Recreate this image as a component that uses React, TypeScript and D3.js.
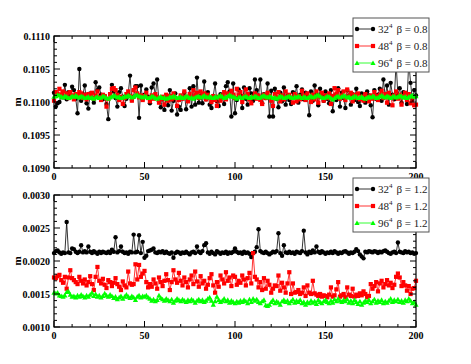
import React from 'react';
import * as d3 from 'd3';

// monte carlo step (x axis) 0..200
const steps = d3.range(0, 201);

// beta = 0.8, top panel
const m32b08 = [
  0.11014, 0.10993, 0.10998, 0.11000, 0.11010, 0.11007, 0.11026, 0.11004, 0.11015, 0.11009,
  0.11023, 0.11018, 0.11005, 0.10983, 0.11050, 0.11002, 0.11012, 0.11025, 0.10998, 0.10990,
  0.11013, 0.11007, 0.10999, 0.11030, 0.11018, 0.11022, 0.11011, 0.11004, 0.11009, 0.10997,
  0.10974, 0.11012, 0.11026, 0.11016, 0.11006, 0.10993, 0.11015, 0.11021, 0.11008, 0.10994,
  0.11005, 0.11012, 0.11040, 0.11003, 0.11008, 0.11024, 0.11024, 0.10976, 0.11025, 0.11004,
  0.11011, 0.11019, 0.11008, 0.10998, 0.11022, 0.11028, 0.11010, 0.11034, 0.11001, 0.10992,
  0.11005, 0.10988, 0.11010, 0.10995, 0.11018, 0.10987, 0.11002, 0.11013, 0.10981, 0.10993,
  0.10988, 0.11006, 0.11014, 0.10989, 0.11003, 0.11021, 0.10993, 0.11024, 0.10996, 0.11037,
  0.10999, 0.11010, 0.10998, 0.11031, 0.11004, 0.11015, 0.10996, 0.10991, 0.11009, 0.11028,
  0.11001, 0.10994, 0.11012, 0.11006, 0.10997, 0.11024, 0.11030, 0.11016, 0.10978, 0.11028,
  0.10983, 0.11003, 0.11019, 0.11010, 0.10991, 0.11022, 0.11005, 0.10996, 0.11021, 0.11013,
  0.11002, 0.11034, 0.11018, 0.11009, 0.11034, 0.10998, 0.11012, 0.11006, 0.11028, 0.10978,
  0.11017, 0.10978, 0.11020, 0.11005, 0.10992, 0.11014, 0.11001, 0.11022, 0.10996, 0.11010,
  0.11003, 0.10997, 0.11015, 0.11008, 0.11024, 0.10999, 0.11011, 0.11019, 0.11004, 0.11014,
  0.11008, 0.10980, 0.11016, 0.11002, 0.11025, 0.11012, 0.10995, 0.11020, 0.11009, 0.11002,
  0.11016, 0.11005, 0.10998, 0.11018, 0.10986, 0.11010, 0.11003, 0.11021, 0.10993, 0.11014,
  0.11006, 0.10991, 0.11018, 0.11009, 0.10996, 0.11012, 0.11003, 0.11020, 0.11000, 0.10994,
  0.11013, 0.11007, 0.10999, 0.11016, 0.11010, 0.10995, 0.10977, 0.11018, 0.11005, 0.11011,
  0.11020, 0.11002, 0.11034, 0.11008, 0.11025, 0.10996, 0.11029, 0.11011, 0.11004, 0.11060,
  0.11010, 0.11021, 0.10999, 0.11015, 0.11007, 0.10997, 0.11062, 0.11029, 0.11003, 0.11018,
  0.11010,
];
const m48b08 = [
  0.11002, 0.11015, 0.11012, 0.11020, 0.11011, 0.11016, 0.11008, 0.11013, 0.11006, 0.11015,
  0.11010, 0.11004, 0.11012, 0.11009, 0.11015, 0.11013, 0.11006, 0.11011, 0.11004, 0.11012,
  0.11008, 0.11014, 0.11005, 0.11010, 0.11016, 0.11007, 0.11003, 0.11011, 0.11009, 0.10993,
  0.11005, 0.11012, 0.11020, 0.11021, 0.11018, 0.11011, 0.11003, 0.11008, 0.10997, 0.11006,
  0.11012, 0.11016, 0.11009, 0.11002, 0.11018, 0.11022, 0.11013, 0.11007, 0.11010, 0.11003,
  0.11009, 0.11014, 0.11006, 0.11001, 0.11010, 0.11005, 0.11012, 0.11007, 0.10999, 0.11004,
  0.11008, 0.10996, 0.11011, 0.11002, 0.11009, 0.11004, 0.11013, 0.11006, 0.10994, 0.11003,
  0.11010, 0.11005, 0.11016, 0.11008, 0.11001, 0.11012, 0.11007, 0.11018, 0.11010, 0.11014,
  0.11006, 0.11016, 0.11010, 0.11013, 0.11004, 0.11011, 0.11007, 0.11000, 0.11009, 0.11003,
  0.10994, 0.11008, 0.11002, 0.11010, 0.11015, 0.11004, 0.11013, 0.11009, 0.11017, 0.11011,
  0.11006, 0.11020, 0.11010, 0.11015, 0.11000, 0.11009, 0.11019, 0.11012, 0.11004, 0.10998,
  0.11008, 0.11013, 0.11005, 0.11010, 0.11003, 0.10997, 0.11011, 0.11006, 0.11014, 0.11009,
  0.11002, 0.10994, 0.11012, 0.11007, 0.11015, 0.11001, 0.11010, 0.11004, 0.11016, 0.11008,
  0.11011, 0.11006, 0.10999, 0.11012, 0.11001, 0.11009, 0.11004, 0.11017, 0.11010, 0.11003,
  0.11013, 0.11007, 0.11000, 0.11011, 0.11004, 0.11016, 0.10999, 0.11008, 0.11014, 0.11002,
  0.11010, 0.11006, 0.11013, 0.10997, 0.11009, 0.11021, 0.11012, 0.11018, 0.11005, 0.11010,
  0.11016, 0.11003, 0.11019, 0.11008, 0.11014, 0.11001, 0.11011, 0.11006, 0.11013, 0.11004,
  0.11008, 0.11002, 0.11012, 0.11007, 0.11001, 0.11010, 0.11005, 0.11015, 0.11009, 0.11003,
  0.11011, 0.11017, 0.11006, 0.11012, 0.10999, 0.11014, 0.11008, 0.10995, 0.11010, 0.11016,
  0.11005, 0.11011, 0.10996, 0.11009, 0.11014, 0.11003, 0.11012, 0.10998, 0.11007, 0.10995,
  0.10996,
];
const m96b08 = [
  0.11008, 0.11009, 0.11011, 0.11010, 0.11008, 0.11007, 0.11009, 0.11008, 0.11006, 0.11007,
  0.11009, 0.11008, 0.11010, 0.11008, 0.11007, 0.11009, 0.11008, 0.11006, 0.11007, 0.11008,
  0.11006, 0.11007, 0.11005, 0.11007, 0.11008, 0.11006, 0.11007, 0.11009, 0.11008, 0.11006,
  0.11005, 0.11007, 0.11008, 0.11010, 0.11009, 0.11007, 0.11008, 0.11006, 0.11007, 0.11009,
  0.11008, 0.11010, 0.11009, 0.11007, 0.11008, 0.11010, 0.11011, 0.11009, 0.11008, 0.11007,
  0.11009, 0.11008, 0.11006, 0.11007, 0.11009, 0.11008, 0.11006, 0.11005, 0.11007, 0.11008,
  0.11006, 0.11007, 0.11005, 0.11006, 0.11008, 0.11007, 0.11009, 0.11008, 0.11006, 0.11007,
  0.11008, 0.11006, 0.11007, 0.11009, 0.11008, 0.11006, 0.11007, 0.11005, 0.11007, 0.11008,
  0.11009, 0.11007, 0.11008, 0.11010, 0.11008, 0.11007, 0.11009, 0.11007, 0.11006, 0.11008,
  0.11007, 0.11009, 0.11010, 0.11008, 0.11006, 0.11007, 0.11009, 0.11011, 0.11009, 0.11008,
  0.11007, 0.11005, 0.11007, 0.11008, 0.11006, 0.11008, 0.11009, 0.11007, 0.11006, 0.11008,
  0.11007, 0.11009, 0.11008, 0.11006, 0.11007, 0.11009, 0.11010, 0.11008, 0.11007, 0.11009,
  0.11008, 0.11006, 0.11007, 0.11005, 0.11007, 0.11009, 0.11008, 0.11006, 0.11007, 0.11008,
  0.11009, 0.11007, 0.11006, 0.11008, 0.11007, 0.11009, 0.11008, 0.11006, 0.11008, 0.11007,
  0.11006, 0.11008, 0.11009, 0.11007, 0.11008, 0.11010, 0.11011, 0.11009, 0.11007, 0.11006,
  0.11007, 0.11009, 0.11008, 0.11006, 0.11004, 0.11006, 0.11008, 0.11009, 0.11007, 0.11008,
  0.11010, 0.11009, 0.11007, 0.11008, 0.11006, 0.11007, 0.11009, 0.11008, 0.11006, 0.11007,
  0.11008, 0.11006, 0.11005, 0.11007, 0.11008, 0.11007, 0.11009, 0.11008, 0.11006, 0.11007,
  0.11009, 0.11010, 0.11008, 0.11007, 0.11009, 0.11008, 0.11006, 0.11008, 0.11009, 0.11007,
  0.11008, 0.11010, 0.11009, 0.11007, 0.11008, 0.11006, 0.11008, 0.11009, 0.11010, 0.11008,
  0.11009,
];

// beta = 1.2, bottom panel
const m32b12 = [
  0.00212, 0.00215, 0.00216, 0.00213, 0.00211, 0.00213, 0.00212, 0.00259, 0.00213, 0.00212,
  0.00219, 0.00218, 0.00214, 0.00212, 0.00214, 0.00224, 0.00213, 0.00215, 0.00213, 0.00222,
  0.00214, 0.00212, 0.00215, 0.00213, 0.00211, 0.00214, 0.00212, 0.00214, 0.00213, 0.00212,
  0.00214, 0.00212, 0.00217, 0.00214, 0.00236, 0.00213, 0.00215, 0.00222, 0.00214, 0.00212,
  0.00213, 0.00211, 0.00214, 0.00213, 0.00240, 0.00213, 0.00214, 0.00239, 0.00212, 0.00229,
  0.00205, 0.00208, 0.00215, 0.00216, 0.00217, 0.00219, 0.00213, 0.00212, 0.00214, 0.00213,
  0.00215, 0.00212, 0.00214, 0.00212, 0.00211, 0.00213, 0.00205, 0.00212, 0.00214, 0.00213,
  0.00211, 0.00213, 0.00212, 0.00214, 0.00212, 0.00210, 0.00213, 0.00214, 0.00212, 0.00222,
  0.00214, 0.00212, 0.00215, 0.00224, 0.00227, 0.00213, 0.00211, 0.00214, 0.00212, 0.00210,
  0.00215, 0.00213, 0.00211, 0.00213, 0.00212, 0.00214, 0.00211, 0.00213, 0.00212, 0.00214,
  0.00219, 0.00214, 0.00212, 0.00213, 0.00211, 0.00214, 0.00212, 0.00213, 0.00211, 0.00206,
  0.00212, 0.00214, 0.00221, 0.00248, 0.00215, 0.00213, 0.00212, 0.00214, 0.00212, 0.00210,
  0.00212, 0.00214, 0.00213, 0.00215, 0.00242, 0.00212, 0.00208, 0.00224, 0.00213, 0.00212,
  0.00214, 0.00212, 0.00213, 0.00211, 0.00214, 0.00213, 0.00212, 0.00215, 0.00246, 0.00213,
  0.00210, 0.00214, 0.00212, 0.00216, 0.00213, 0.00222, 0.00214, 0.00212, 0.00215, 0.00213,
  0.00211, 0.00213, 0.00212, 0.00214, 0.00212, 0.00215, 0.00213, 0.00211, 0.00213, 0.00212,
  0.00214, 0.00215, 0.00213, 0.00211, 0.00213, 0.00212, 0.00214, 0.00218, 0.00215, 0.00210,
  0.00207, 0.00204, 0.00214, 0.00213, 0.00215, 0.00214, 0.00213, 0.00215, 0.00214, 0.00212,
  0.00214, 0.00213, 0.00215, 0.00216, 0.00214, 0.00212, 0.00211, 0.00213, 0.00214, 0.00212,
  0.00228, 0.00214, 0.00213, 0.00212, 0.00215, 0.00213, 0.00214, 0.00212, 0.00213, 0.00211,
  0.00212,
];
const m48b12 = [
  0.00175, 0.00174, 0.00177, 0.00179, 0.00171, 0.00167, 0.00176, 0.00158, 0.00175, 0.00186,
  0.00174, 0.00171, 0.00168, 0.00165, 0.00176, 0.00170, 0.00166, 0.00172, 0.00163, 0.00168,
  0.00177, 0.00165, 0.00156, 0.00176, 0.00191, 0.00170, 0.00166, 0.00173, 0.00164, 0.00159,
  0.00171, 0.00168, 0.00162, 0.00167, 0.00174, 0.00165, 0.00161, 0.00156, 0.00169, 0.00163,
  0.00160, 0.00184, 0.00166, 0.00164, 0.00165, 0.00195, 0.00172, 0.00194, 0.00176, 0.00181,
  0.00185, 0.00168, 0.00160, 0.00165, 0.00161, 0.00172, 0.00166, 0.00158, 0.00175, 0.00168,
  0.00162, 0.00170, 0.00180, 0.00171, 0.00156, 0.00168, 0.00186, 0.00172, 0.00167, 0.00182,
  0.00170, 0.00163, 0.00175, 0.00168, 0.00160, 0.00172, 0.00178, 0.00165, 0.00184, 0.00169,
  0.00161, 0.00177, 0.00166, 0.00170, 0.00158, 0.00164, 0.00174, 0.00180, 0.00163, 0.00152,
  0.00168, 0.00161, 0.00178, 0.00172, 0.00166, 0.00183, 0.00170, 0.00175, 0.00162, 0.00178,
  0.00176, 0.00164, 0.00170, 0.00167, 0.00178, 0.00172, 0.00163, 0.00174, 0.00182, 0.00166,
  0.00212, 0.00176, 0.00172, 0.00160, 0.00168, 0.00156, 0.00174, 0.00158, 0.00170, 0.00164,
  0.00152, 0.00158, 0.00163, 0.00162, 0.00178, 0.00155, 0.00167, 0.00160, 0.00152, 0.00166,
  0.00183, 0.00150, 0.00166, 0.00152, 0.00153, 0.00156, 0.00150, 0.00152, 0.00160, 0.00147,
  0.00163, 0.00152, 0.00150, 0.00170, 0.00151, 0.00149, 0.00147, 0.00150, 0.00146, 0.00148,
  0.00147, 0.00145, 0.00149, 0.00160, 0.00146, 0.00148, 0.00157, 0.00168, 0.00146, 0.00148,
  0.00150, 0.00145, 0.00160, 0.00149, 0.00147, 0.00158, 0.00146, 0.00149, 0.00147, 0.00151,
  0.00148, 0.00154, 0.00150, 0.00145, 0.00147, 0.00165, 0.00158, 0.00162, 0.00168, 0.00154,
  0.00166, 0.00170, 0.00160, 0.00165, 0.00171, 0.00163, 0.00167, 0.00159, 0.00164, 0.00176,
  0.00181, 0.00175, 0.00162, 0.00168, 0.00163, 0.00155, 0.00162, 0.00150, 0.00158, 0.00159,
  0.00170,
];
const m96b12 = [
  0.00152, 0.00151, 0.00152, 0.00148, 0.00147, 0.00146, 0.00148, 0.00153, 0.00154, 0.00149,
  0.00146, 0.00147, 0.00145, 0.00148, 0.00146, 0.00149, 0.00147, 0.00145, 0.00148, 0.00146,
  0.00149, 0.00152, 0.00147, 0.00150, 0.00146, 0.00148, 0.00145, 0.00147, 0.00151, 0.00148,
  0.00146, 0.00149, 0.00147, 0.00144, 0.00146, 0.00142, 0.00145, 0.00147, 0.00143, 0.00146,
  0.00149, 0.00146, 0.00144, 0.00147, 0.00145, 0.00141, 0.00146, 0.00148, 0.00145, 0.00147,
  0.00146, 0.00148, 0.00145, 0.00143, 0.00140, 0.00142, 0.00139, 0.00141, 0.00148, 0.00144,
  0.00142, 0.00140, 0.00143, 0.00141, 0.00139, 0.00142, 0.00137, 0.00140, 0.00143, 0.00141,
  0.00139, 0.00142, 0.00140, 0.00138, 0.00141, 0.00139, 0.00142, 0.00140, 0.00137, 0.00140,
  0.00142, 0.00139, 0.00141, 0.00138, 0.00140, 0.00143, 0.00145, 0.00140, 0.00134, 0.00139,
  0.00146, 0.00141, 0.00138, 0.00140, 0.00143, 0.00139, 0.00141, 0.00137, 0.00140, 0.00138,
  0.00136, 0.00139, 0.00137, 0.00140, 0.00138, 0.00141, 0.00139, 0.00136, 0.00142, 0.00138,
  0.00143, 0.00140, 0.00142, 0.00138, 0.00136, 0.00139, 0.00141, 0.00133, 0.00132, 0.00134,
  0.00138, 0.00141, 0.00136, 0.00139, 0.00137, 0.00134, 0.00139, 0.00141, 0.00138, 0.00140,
  0.00136, 0.00139, 0.00142, 0.00137, 0.00140, 0.00138, 0.00141, 0.00136, 0.00138, 0.00134,
  0.00138, 0.00136, 0.00140, 0.00137, 0.00139, 0.00135, 0.00141, 0.00138, 0.00136, 0.00139,
  0.00141, 0.00138, 0.00136, 0.00140, 0.00137, 0.00142, 0.00139, 0.00143, 0.00140, 0.00138,
  0.00141, 0.00139, 0.00142, 0.00137, 0.00140, 0.00136, 0.00141, 0.00138, 0.00135, 0.00139,
  0.00134, 0.00137, 0.00140, 0.00138, 0.00141, 0.00136, 0.00139, 0.00142, 0.00137, 0.00140,
  0.00138, 0.00141, 0.00136, 0.00139, 0.00137, 0.00140, 0.00143, 0.00138, 0.00141, 0.00139,
  0.00142, 0.00138, 0.00140, 0.00137, 0.00141, 0.00139, 0.00143, 0.00140, 0.00136, 0.00138,
  0.00134,
];

const lattices = ['32', '48', '96'];
const colors = ['#000000', '#ff0000', '#00ff00'];
const shapes = ['circle', 'square', 'triangle'];

const W = 471;
const H = 364;
const plotLeft = 54;
const plotRight = 416;
const tickFont = "'Liberation Serif', 'Times New Roman', serif";

const x = d3.scaleLinear().domain([0, 200]).range([plotLeft, plotRight]);

function Marker({ shape, cx, cy, color }) {
  if (shape === 'circle') return <circle cx={cx} cy={cy} r={2.2} fill={color} />;
  if (shape === 'square') return <rect x={cx - 2.1} y={cy - 2.1} width={4.2} height={4.2} fill={color} />;
  const s = 2.6;
  return <path d={`M${cx},${cy - s} L${cx + s},${cy + s * 0.8} L${cx - s},${cy + s * 0.8} Z`} fill={color} />;
}

function Panel({ top, bottom, yDomain, series, beta, legendTop }) {
  const y = d3.scaleLinear().domain(yDomain).range([bottom, top]);
  const line = d3.line<number>().x((d, i) => x(steps[i])).y(d => y(d));
  const yMajor = y.ticks(4);
  const yMinor = y.ticks(20).filter(v => !yMajor.some(m => Math.abs(m - v) < 1e-9));
  const xMajor = x.ticks(4);
  const xMinor = x.ticks(20).filter(v => v % 50 !== 0);
  const fmt = d3.format('.4f');

  return (
    <g>
      {series.map((vals, s) => (
        <g key={s}>
          <path d={line(vals) || ''} fill="none" stroke={colors[s]} strokeWidth={0.8} />
          {vals.map((v, i) => (
            <Marker key={i} shape={shapes[s]} cx={x(steps[i])} cy={y(v)} color={colors[s]} />
          ))}
        </g>
      ))}
      <rect x={plotLeft} y={top} width={plotRight - plotLeft} height={bottom - top} fill="none" stroke="#000" strokeWidth={1.2} />
      {yMajor.map(v => (
        <g key={'ym' + v}>
          <line x1={plotLeft} x2={plotLeft + 6} y1={y(v)} y2={y(v)} stroke="#000" />
          <line x1={plotRight} x2={plotRight - 6} y1={y(v)} y2={y(v)} stroke="#000" />
          <text x={plotLeft - 4} y={y(v)} dy="0.35em" textAnchor="end" fontFamily={tickFont} fontWeight="bold" fontSize={10}>{fmt(v)}</text>
        </g>
      ))}
      {yMinor.map(v => (
        <g key={'yn' + v}>
          <line x1={plotLeft} x2={plotLeft + 3} y1={y(v)} y2={y(v)} stroke="#000" />
          <line x1={plotRight} x2={plotRight - 3} y1={y(v)} y2={y(v)} stroke="#000" />
        </g>
      ))}
      {xMajor.map(v => (
        <g key={'xm' + v}>
          <line x1={x(v)} x2={x(v)} y1={bottom} y2={bottom - 6} stroke="#000" />
          <line x1={x(v)} x2={x(v)} y1={top} y2={top + 6} stroke="#000" />
          <text x={x(v)} y={bottom + 12} textAnchor="middle" fontFamily={tickFont} fontWeight="bold" fontSize={10}>{v}</text>
        </g>
      ))}
      {xMinor.map(v => (
        <g key={'xn' + v}>
          <line x1={x(v)} x2={x(v)} y1={bottom} y2={bottom - 3} stroke="#000" />
          <line x1={x(v)} x2={x(v)} y1={top} y2={top + 3} stroke="#000" />
        </g>
      ))}
      <text transform={`translate(21,${(top + bottom) / 2}) rotate(-90)`} textAnchor="middle" fontFamily={tickFont} fontWeight="bold" fontSize={11}>m</text>
      <g transform={`translate(353,${legendTop})`}>
        <rect x={0} y={0} width={76} height={54} fill="#fff" stroke="#555" strokeWidth={1} />
        {lattices.map((L, s) => {
          const ry = 11 + s * 17;
          return (
            <g key={L}>
              <line x1={4} x2={20} y1={ry} y2={ry} stroke={colors[s]} strokeWidth={0.8} />
              <Marker shape={shapes[s]} cx={4} cy={ry} color={colors[s]} />
              <Marker shape={shapes[s]} cx={20} cy={ry} color={colors[s]} />
              <text x={25} y={ry} dy="0.35em" fontFamily={tickFont} fontSize={11} fill="#222">
                {L}
                <tspan fontSize={7} dy={-5}>4</tspan>
                <tspan dx={4} dy={5}>{`β = ${beta}`}</tspan>
              </text>
            </g>
          );
        })}
      </g>
    </g>
  );
}

export default function App() {
  return (
    <svg width={W} height={H} style={{ position: 'absolute', left: 0, top: 0, background: '#fff' }}>
      <Panel top={36} bottom={168} yDomain={[0.109, 0.111]} series={[m32b08, m48b08, m96b08]} beta="0.8" legendTop={18} />
      <Panel top={195} bottom={327} yDomain={[0.001, 0.003]} series={[m32b12, m48b12, m96b12]} beta="1.2" legendTop={178} />
    </svg>
  );
}
